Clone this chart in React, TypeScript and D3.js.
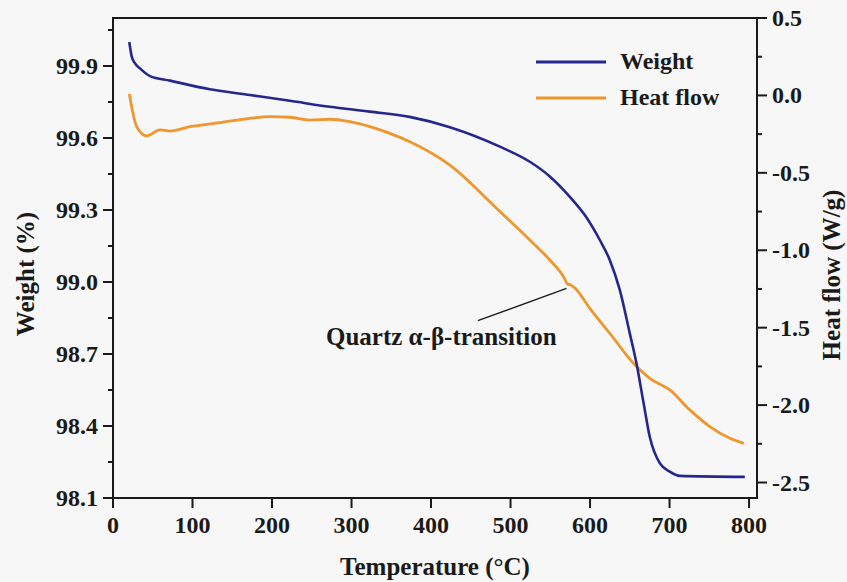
import React, { useEffect, useRef } from 'react';
import * as d3 from 'd3';

// TGA / DSC readings
const weightTemp = [20.5, 23.5, 27.7, 33.9, 46.5, 71.7, 121.9, 172.2, 222.5, 272.8, 323.1, 373, 423.7, 486.6, 524.3, 549.4, 574.6, 593.4, 612.3, 624.8, 637.4, 650, 658.4, 666.7, 675.1, 687.7, 700.3, 712.9, 794.6];
const weightPct = [100.0, 99.94, 99.911, 99.89, 99.858, 99.839, 99.803, 99.779, 99.755, 99.73, 99.71, 99.688, 99.645, 99.564, 99.501, 99.44, 99.355, 99.279, 99.175, 99.092, 98.967, 98.786, 98.661, 98.508, 98.355, 98.245, 98.21, 98.192, 98.188];

const heatTemp = [20.5, 29.8, 42.4, 59.1, 71.7, 96.8, 134.5, 172.2, 197.4, 222.5, 247.7, 272.8, 297.9, 323.1, 348.2, 373.4, 423.7, 486.6, 524.3, 549.4, 568.3, 571.4, 575.8, 582.1, 599.7, 624.8, 656.3, 675.1, 700.3, 725.5, 750.6, 775.8, 793.4];
const heatFlow = [0.01, -0.202, -0.262, -0.223, -0.23, -0.202, -0.176, -0.148, -0.137, -0.141, -0.159, -0.154, -0.17, -0.202, -0.245, -0.299, -0.45, -0.75, -0.934, -1.063, -1.186, -1.218, -1.224, -1.25, -1.375, -1.536, -1.74, -1.827, -1.902, -2.031, -2.139, -2.214, -2.247];

const xTicks = [0, 100, 200, 300, 400, 500, 600, 700, 800];
const weightTicks = [98.1, 98.4, 98.7, 99.0, 99.3, 99.6, 99.9];
const weightMinor = [98.25, 98.55, 98.85, 99.15, 99.45, 99.75, 100.05];
const heatTicks = [0.5, 0.0, -0.5, -1.0, -1.5, -2.0, -2.5];
const heatMinor = [0.25, -0.25, -0.75, -1.25, -1.75, -2.25];

// annotation: label anchor -> kink in heat flow
const noteFrom = [458.9, -1.455];
const noteTo = [570.4, -1.246];

const W = 847, H = 582;
const BLUE = '#26268f';
const ORANGE = '#ef962c';
const FONT = '"Liberation Serif", "Times New Roman", serif';

const App: React.FC = () => {
  const svgRef = useRef<SVGSVGElement>(null);

  useEffect(() => {
    if (!svgRef.current) return;
    const svg = d3.select(svgRef.current);
    svg.selectAll('*').remove();

    const left = 113, right = 757, top = 18, bottom = 498;
    const x = d3.scaleLinear().domain([0, 810]).range([left, right]);
    const yW = d3.scaleLinear().domain([98.1, 100.1]).range([bottom, top]);
    const yH = d3.scaleLinear().domain([-2.6, 0.5]).range([bottom, top]);

    svg.append('rect').attr('width', W).attr('height', H).attr('fill', '#f7f7f7');

    const weightLine = d3.line<number>()
      .x((_, i) => x(weightTemp[i]))
      .y((d) => yW(d))
      .curve(d3.curveMonotoneX);
    const heatLine = d3.line<number>()
      .x((_, i) => x(heatTemp[i]))
      .y((d) => yH(d))
      .curve(d3.curveMonotoneX);

    svg.append('path').datum(heatFlow).attr('d', heatLine)
      .attr('fill', 'none').attr('stroke', ORANGE).attr('stroke-width', 2.8);
    svg.append('path').datum(weightPct).attr('d', weightLine)
      .attr('fill', 'none').attr('stroke', BLUE).attr('stroke-width', 2.6);

    // frame
    svg.append('rect')
      .attr('x', left).attr('y', top)
      .attr('width', right - left).attr('height', bottom - top)
      .attr('fill', 'none').attr('stroke', '#1a1a1a').attr('stroke-width', 2);

    const g = svg.append('g').attr('stroke', '#1a1a1a').attr('stroke-width', 2);
    const txt = svg.append('g')
      .attr('font-family', FONT).attr('font-weight', 'bold')
      .attr('font-size', 24).attr('fill', '#1a1a1a');

    // bottom axis
    xTicks.forEach((t) => {
      g.append('line').attr('x1', x(t)).attr('x2', x(t)).attr('y1', bottom).attr('y2', bottom + 10);
      txt.append('text').attr('x', x(t)).attr('y', bottom + 35)
        .attr('text-anchor', 'middle').text(t);
    });

    // left axis
    weightTicks.forEach((t) => {
      g.append('line').attr('x1', left - 10).attr('x2', left).attr('y1', yW(t)).attr('y2', yW(t));
      txt.append('text').attr('x', left - 15).attr('y', yW(t) + 8)
        .attr('text-anchor', 'end').text(t.toFixed(1));
    });
    weightMinor.forEach((t) => {
      g.append('line').attr('x1', left - 5).attr('x2', left).attr('y1', yW(t)).attr('y2', yW(t));
    });

    // right axis
    heatTicks.forEach((t) => {
      g.append('line').attr('x1', right).attr('x2', right + 10).attr('y1', yH(t)).attr('y2', yH(t));
      txt.append('text').attr('x', right + 15).attr('y', yH(t) + 8)
        .attr('text-anchor', 'start').text(t.toFixed(1));
    });
    heatMinor.forEach((t) => {
      g.append('line').attr('x1', right).attr('x2', right + 5).attr('y1', yH(t)).attr('y2', yH(t));
    });

    // axis titles
    txt.append('text').attr('x', (left + right) / 2).attr('y', 575)
      .attr('font-size', 25).attr('text-anchor', 'middle').text('Temperature (°C)');
    txt.append('text').attr('transform', 'translate(34,274) rotate(-90)')
      .attr('font-size', 25).attr('text-anchor', 'middle').text('Weight (%)');
    txt.append('text').attr('transform', 'translate(840,275) rotate(-90)')
      .attr('font-size', 25).attr('text-anchor', 'middle').text('Heat flow (W/g)');

    // legend
    const legend = [
      { label: 'Weight', color: BLUE, y: 62 },
      { label: 'Heat flow', color: ORANGE, y: 98 },
    ];
    legend.forEach((l) => {
      svg.append('line').attr('x1', 536).attr('x2', 606).attr('y1', l.y).attr('y2', l.y)
        .attr('stroke', l.color).attr('stroke-width', 2.8);
      txt.append('text').attr('x', 620).attr('y', l.y + 7).text(l.label);
    });

    // annotation
    svg.append('line')
      .attr('x1', x(noteFrom[0])).attr('y1', yH(noteFrom[1]))
      .attr('x2', x(noteTo[0])).attr('y2', yH(noteTo[1]))
      .attr('stroke', '#1a1a1a').attr('stroke-width', 1.3);
    txt.append('text').attr('x', 326).attr('y', 345)
      .attr('font-size', 25).text('Quartz α-β-transition');
  }, []);

  return (
    <div style={{ position: 'absolute', left: 0, top: 0 }}>
      <svg ref={svgRef} width={W} height={H} style={{ display: 'block' }} />
    </div>
  );
};

export default App;
